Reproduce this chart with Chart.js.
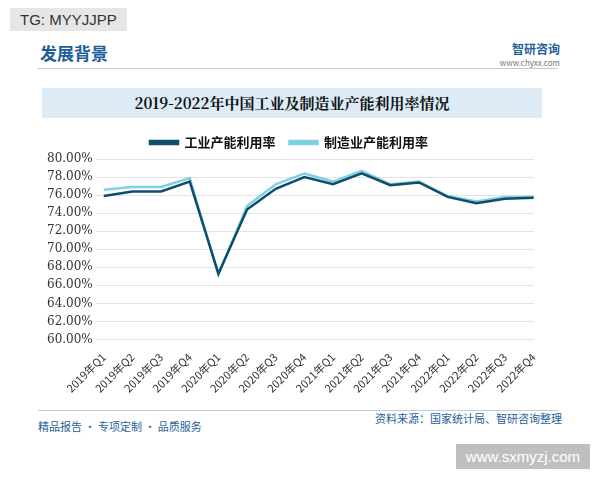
<!DOCTYPE html>
<html><head><meta charset="utf-8">
<script src="https://cdn.jsdelivr.net/npm/chart.js@4/dist/chart.umd.min.js"></script>
<style>
body{margin:0;width:600px;height:480px;background:#fff;position:relative;overflow:hidden;font-family:"Noto Sans CJK SC",sans-serif}
.tag{position:absolute;left:10px;top:8px;background:#e6e6e6;color:#333;font-size:15px;padding:3px 10px;font-family:Arial,sans-serif}
.head{position:absolute;left:40px;top:40px;color:#1f5f99;font-size:17px;font-weight:bold}
.rule{position:absolute;left:38px;top:68px;width:520px;border-top:1px solid #bcd}
.logo{position:absolute;right:40px;top:42px;color:#1f5f99;font-size:12px;font-weight:bold;text-align:right;line-height:14px}
.logo small{display:block;font-size:8px;color:#777;font-weight:normal}
.band{position:absolute;left:42px;top:88px;width:500px;height:30px;background:#dcebf5;text-align:center;line-height:30px;font-size:15px;font-weight:bold;color:#111;font-family:"Noto Serif CJK SC","Noto Sans CJK SC",serif}
#wrap{position:absolute;left:44px;top:122px;width:502px;height:276px}
.src{position:absolute;right:38px;top:410px;font-size:11px;color:#1f5f99}
.foot{position:absolute;left:38px;top:418px;font-size:11px;color:#1f5f99}
.frule{position:absolute;left:38px;top:410px;width:520px;border-top:1px solid #bcd}
.url{position:absolute;right:10px;top:444px;background:#bfbfbf;color:#fff;font-size:15px;padding:4px 10px;font-family:Arial,sans-serif}
</style></head><body>
<div class="tag">TG: MYYJJPP</div>
<div class="head">发展背景</div>
<div class="logo">智研咨询<small>www.chyxx.com</small></div>
<div class="rule"></div>
<div class="band">2019-2022年中国工业及制造业产能利用率情况</div>
<div id="wrap"><canvas id="c"></canvas></div>
<div class="src">资料来源：国家统计局、智研咨询整理</div>
<div class="frule"></div>
<div class="foot">精品报告 · 专项定制 · 品质服务</div>
<div class="url">www.sxmyzj.com</div>
<script>
const quarters = ["2019年Q1","2019年Q2","2019年Q3","2019年Q4","2020年Q1","2020年Q2","2020年Q3","2020年Q4","2021年Q1","2021年Q2","2021年Q3","2021年Q4","2022年Q1","2022年Q2","2022年Q3","2022年Q4"];
const industry = [75.9,76.4,76.4,77.5,67.3,74.4,76.7,78.0,77.2,78.4,77.1,77.4,75.8,75.1,75.6,75.7];
const manufacturing = [76.6,76.9,76.9,77.9,67.2,74.8,77.2,78.4,77.5,78.7,77.2,77.5,75.9,75.3,75.8,75.8];
const seriesNames = ["工业产能利用率","制造业产能利用率"];

new Chart(document.getElementById("c"), {
  type: "line",
  data: {
    labels: quarters,
    datasets: [
      { label: seriesNames[0], data: industry, borderColor: "#0e4d6b", backgroundColor: "#0e4d6b", borderWidth: 2.5, pointRadius: 0, tension: 0 },
      { label: seriesNames[1], data: manufacturing, borderColor: "#7fd0e2", backgroundColor: "#7fd0e2", borderWidth: 2.5, pointRadius: 0, tension: 0 }
    ]
  },
  options: {
    responsive: true, maintainAspectRatio: false, animation: false,
    layout: { padding: { right: 12 } },
    plugins: {
      legend: { labels: { boxWidth: 28, boxHeight: 3, color: "#111", padding: 14, font: { size: 13, weight: "bold", family: "Noto Sans CJK SC" } } },
      tooltip: { enabled: false }
    },
    scales: {
      y: { min: 60, max: 80, ticks: { stepSize: 2, color: "#333", font: { size: 12, family: "DejaVu Serif" }, callback: (v) => v.toFixed(2) + "%" },
           grid: { color: "#e3e3e3" }, border: { display: false } },
      x: { ticks: { maxRotation: 45, minRotation: 45, color: "#333", font: { size: 11, family: "Noto Sans CJK SC" } },
           grid: { display: false }, border: { display: false } }
    }
  }
});
</script>
</body></html>
